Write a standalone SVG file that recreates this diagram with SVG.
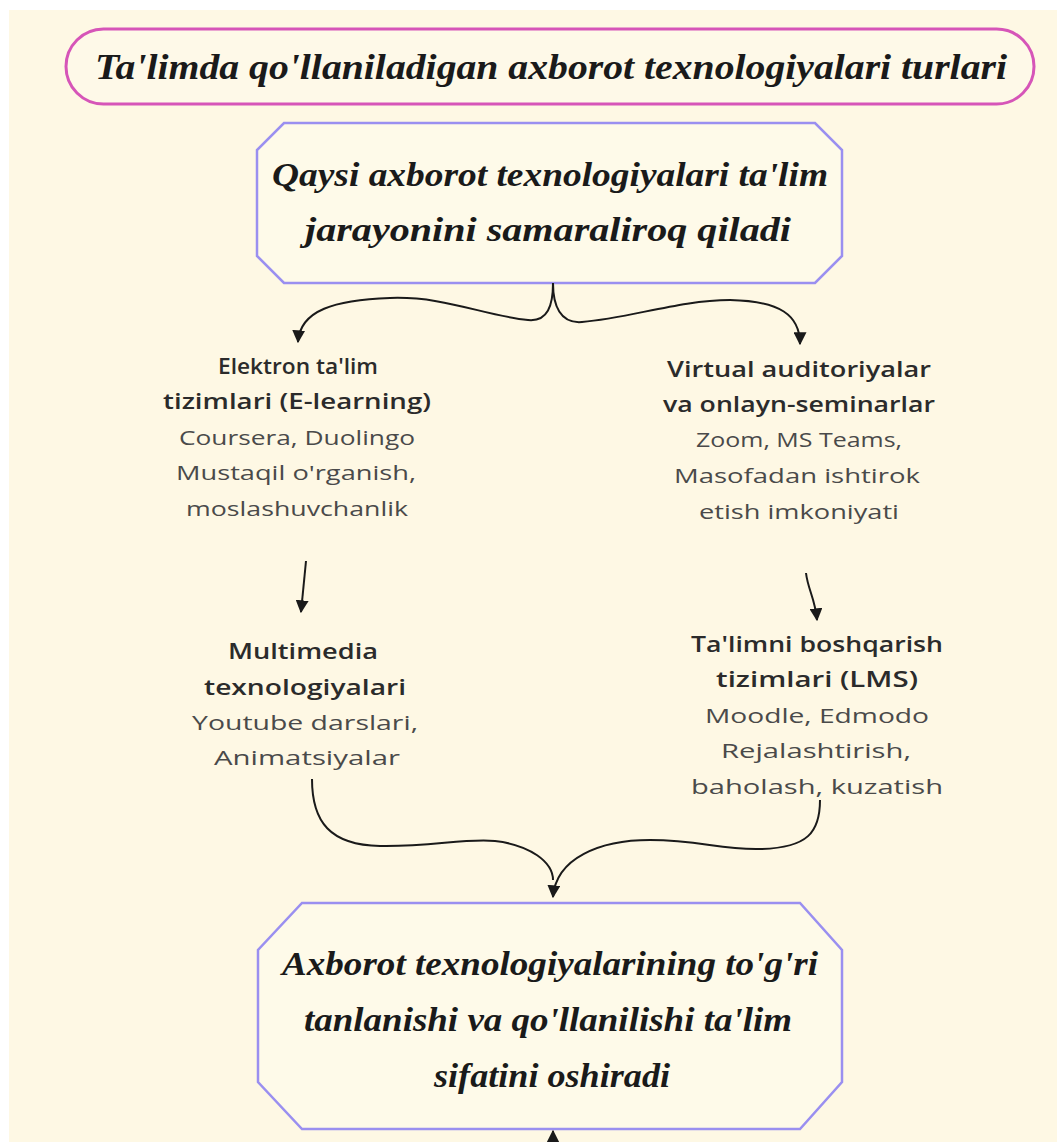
<svg xmlns="http://www.w3.org/2000/svg" width="1057" height="1142" viewBox="0 0 1057 1142">
<defs>
<style>
.script{font-family:"Liberation Serif","DejaVu Serif",serif;font-style:italic;font-weight:bold;fill:#1a1a1a;text-anchor:middle}
.head{font-family:"Open Sans","Noto Sans",sans-serif;font-weight:600;font-size:21px;fill:#2b2b2b;text-anchor:middle}
.det{font-family:"Open Sans","Noto Sans",sans-serif;font-size:20px;fill:#4a4a4a;text-anchor:middle}
.oct{fill:#fefae9;stroke:#9a8ff0;stroke-width:2.5}
.con{fill:none;stroke:#1a1a1a;stroke-width:2}
</style>
<marker id="ah" viewBox="0 0 10 10" refX="9" refY="5" markerWidth="6.5" markerHeight="6.5" orient="auto" markerUnits="strokeWidth">
<path d="M0,0 L10,5 L0,10 z" fill="#1a1a1a"/>
</marker>
</defs>
<rect x="0" y="0" width="1057" height="1142" fill="#ffffff"/>
<rect x="9" y="10" width="1048" height="1132" fill="#fef8e4"/>

<g id="title">
<rect x="66" y="29" width="968" height="75" rx="37.5" fill="#fef9e8" stroke="#d655b8" stroke-width="3"/>
<text class="script" x="551" y="79" font-size="36" textLength="912" lengthAdjust="spacingAndGlyphs">Ta'limda qo'llaniladigan axborot texnologiyalari turlari</text>
</g>

<g id="question">
<path class="oct" d="M284,123 L815,123 L842,150 L842,256 L815,283 L284,283 L257,256 L257,150 Z"/>
<text class="script" x="550" y="186" font-size="34" textLength="556" lengthAdjust="spacingAndGlyphs">Qaysi axborot texnologiyalari ta'lim</text>
<text class="script" x="548" y="241" font-size="34" textLength="486" lengthAdjust="spacingAndGlyphs">jarayonini samaraliroq qiladi</text>
</g>

<g id="elearning">
<text class="head" x="298" y="374" textLength="160" lengthAdjust="spacingAndGlyphs">Elektron ta'lim</text>
<text class="head" x="297" y="409" textLength="268" lengthAdjust="spacingAndGlyphs">tizimlari (E-learning)</text>
<text class="det" x="297" y="445" textLength="236" lengthAdjust="spacingAndGlyphs">Coursera, Duolingo</text>
<text class="det" x="296" y="480" textLength="240" lengthAdjust="spacingAndGlyphs">Mustaqil o'rganish,</text>
<text class="det" x="297" y="516" textLength="222" lengthAdjust="spacingAndGlyphs">moslashuvchanlik</text>
</g>

<g id="virtual">
<text class="head" x="799" y="377" textLength="264" lengthAdjust="spacingAndGlyphs">Virtual auditoriyalar</text>
<text class="head" x="799" y="412" textLength="272" lengthAdjust="spacingAndGlyphs">va onlayn-seminarlar</text>
<text class="det" x="799" y="447" textLength="206" lengthAdjust="spacingAndGlyphs">Zoom, MS Teams,</text>
<text class="det" x="797" y="483" textLength="246" lengthAdjust="spacingAndGlyphs">Masofadan ishtirok</text>
<text class="det" x="799" y="519" textLength="200" lengthAdjust="spacingAndGlyphs">etish imkoniyati</text>
</g>

<g id="multimedia">
<text class="head" x="303" y="659" textLength="150" lengthAdjust="spacingAndGlyphs">Multimedia</text>
<text class="head" x="305" y="695" textLength="202" lengthAdjust="spacingAndGlyphs">texnologiyalari</text>
<text class="det" x="305" y="730" textLength="226" lengthAdjust="spacingAndGlyphs">Youtube darslari,</text>
<text class="det" x="307" y="765" textLength="186" lengthAdjust="spacingAndGlyphs">Animatsiyalar</text>
</g>

<g id="lms">
<text class="head" x="817" y="652" textLength="252" lengthAdjust="spacingAndGlyphs">Ta'limni boshqarish</text>
<text class="head" x="817" y="687" textLength="202" lengthAdjust="spacingAndGlyphs">tizimlari (LMS)</text>
<text class="det" x="817" y="723" textLength="224" lengthAdjust="spacingAndGlyphs">Moodle, Edmodo</text>
<text class="det" x="816" y="758" textLength="190" lengthAdjust="spacingAndGlyphs">Rejalashtirish,</text>
<text class="det" x="817" y="794" textLength="252" lengthAdjust="spacingAndGlyphs">baholash, kuzatish</text>
</g>

<g id="conclusion">
<path class="oct" d="M302,903 L800,903 L842,950 L842,1082 L800,1129 L302,1129 L258,1082 L258,950 Z"/>
<text class="script" x="550" y="975" font-size="34" textLength="536" lengthAdjust="spacingAndGlyphs">Axborot texnologiyalarining to'g'ri</text>
<text class="script" x="548" y="1031" font-size="34" textLength="488" lengthAdjust="spacingAndGlyphs">tanlanishi va qo'llanilishi ta'lim</text>
<text class="script" x="552" y="1087" font-size="34" textLength="236" lengthAdjust="spacingAndGlyphs">sifatini oshiradi</text>
</g>

<g id="connectors">
<path class="con" marker-end="url(#ah)" d="M553,283 C553,305 548,322 528,320 C485,316 445,296 390,298 C335,300 300,310 298,342"/>
<path class="con" marker-end="url(#ah)" d="M553,283 C553,305 560,324 582,322 C630,318 680,300 730,300 C780,301 800,315 800,344"/>
<path class="con" marker-end="url(#ah)" d="M306,561 L301,612"/>
<path class="con" marker-end="url(#ah)" d="M806,573 C808,590 815,598 817,620"/>
<path class="con" d="M312,779 C312,822 330,845 380,846 C430,847 465,838 495,841 C530,845 553,862 553,880"/>
<path class="con" marker-end="url(#ah)" d="M820,800 C820,832 808,848 760,849 C720,850 700,840 650,840 C600,840 556,858 553,897"/>
<path class="con" marker-end="url(#ah)" d="M553,1160 L553,1131"/>
</g>
</svg>
